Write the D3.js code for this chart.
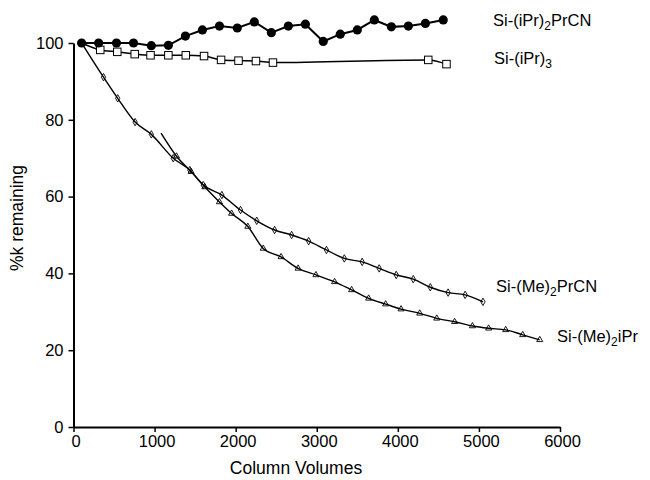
<!DOCTYPE html>
<html>
<head>
<meta charset="utf-8">
<script src="https://cdn.jsdelivr.net/npm/d3@7"></script>
<style>
  body { margin: 0; background: #fff; }
  text { font-family: "Liberation Sans", Arial, Helvetica, sans-serif; fill: #000; }
</style>
</head>
<body>
<svg id="chart" width="650" height="480"></svg>
<script>
// values: [column volumes, % k remaining]
const iPr2PrCN = [[100,100],[310,100],[530,100],[740,100],[960,99.3],[1170,99.4],[1380,101.8],[1590,103.4],
  [1800,104.4],[2020,103.9],[2230,105.5],[2440,102.7],[2650,104.4],[2860,104.9],[3080,100.4],[3290,102.3],
  [3500,103.4],[3710,106.0],[3920,104.2],[4130,104.4],[4340,105.1],[4560,106.0]];
const iPr3 = [[100,100],[330,98.2],[540,97.7],[755,97.1],[950,96.8],[1170,96.8],[1385,96.8],[1610,96.6],
  [1820,95.6],[2035,95.4],[2250,95.3],[2460,94.9],[4375,95.6],[4600,94.5]];
const me2PrCN = [[100,100],[370,91.1],[545,85.6],[760,79.4],[960,76.2],[1230,70.0],[1435,66.9],[1600,63.0],
  [1830,60.4],[2060,56.5],[2260,53.7],[2480,51.3],[2690,50.0],[2900,48.4],[3120,46.1],[3340,43.9],
  [3560,43.0],[3770,41.3],[3980,39.6],[4190,38.5],[4400,36.4],[4620,35.0],[4830,34.4],[5050,32.6]];
const me2iPr = [[1080,76.5],[1270,70.5],[1450,66.5],[1620,62.5],[1800,58.6],[1950,55.6],[2150,52.2],
  [2340,46.5],[2560,44.3],[2770,41.3],[2990,39.6],[3220,37.8],[3430,35.7],[3640,33.5],[3850,32.0],
  [4040,30.7],[4270,29.6],[4480,28.3],[4700,27.4],[4920,26.3],[5120,25.7],[5330,25.3],[5540,24.0],[5750,22.7]];

const xTicks = [0, 1000, 2000, 3000, 4000, 5000, 6000];
const yTicks = [0, 20, 40, 60, 80, 100];

const margin = {left: 73.5, top: 43};
const w = 486.5, h = 384;

const svg = d3.select('#chart');
const g = svg.append('g').attr('transform', `translate(${margin.left},${margin.top})`);

const x = d3.scaleLinear().domain([0, 6000]).range([0, w]);
const y = d3.scaleLinear().domain([0, 100]).range([h, 0]);

// axes
const xAxis = g.append('g').attr('transform', `translate(0,${h})`)
  .call(d3.axisBottom(x).tickValues(xTicks).tickFormat(d3.format('d'))
    .tickSize(5).tickSizeOuter(0).tickPadding(3));
const yAxis = g.append('g')
  .call(d3.axisLeft(y).tickValues(yTicks).tickFormat(d3.format('d'))
    .tickSize(5).tickSizeOuter(0).tickPadding(5));

[xAxis, yAxis].forEach(a => {
  a.select('.domain').attr('stroke', '#000').attr('stroke-width', 2);
  a.selectAll('.tick line').attr('stroke', '#000').attr('stroke-width', 1.5);
  a.selectAll('.tick text').style('font-size', '16.5px').attr('fill', '#000');
});
xAxis.selectAll('.tick text').attr('dx', 2);

svg.append('text').attr('x', 296).attr('y', 474).attr('text-anchor', 'middle')
  .style('font-size', '17.5px').text('Column Volumes');
svg.append('text').attr('transform', 'translate(23,218) rotate(-90)').attr('text-anchor', 'middle')
  .style('font-size', '17.5px').text('%k remaining');

const line = d3.line().x(d => x(d[0])).y(d => y(d[1]));
const smooth = d3.line().curve(d3.curveMonotoneX).x(d => x(d[0])).y(d => y(d[1]));

// lower two series (thin lines, small hollow markers)
[[me2PrCN, d3.symbolDiamond], [me2iPr, d3.symbolTriangle]].forEach(([data, sym]) => {
  g.append('path').datum(data).attr('d', smooth)
    .attr('fill', 'none').attr('stroke', '#000').attr('stroke-width', 1.4);
  g.selectAll(null).data(data.slice(1)).join('path')
    .attr('transform', d => `translate(${x(d[0])},${y(d[1])})`)
    .attr('d', d3.symbol().type(sym).size(16))
    .attr('fill', 'none').attr('stroke', '#000').attr('stroke-width', 0.9);
});

// Si-(iPr)3 : open squares
g.append('path').datum(iPr3).attr('d', smooth)
  .attr('fill', 'none').attr('stroke', '#000').attr('stroke-width', 1.5);
g.selectAll('rect.sq').data(iPr3.slice(1)).join('rect').attr('class', 'sq')
  .attr('x', d => x(d[0]) - 3.75).attr('y', d => y(d[1]) - 3.75)
  .attr('width', 7.5).attr('height', 7.5)
  .attr('fill', '#fff').attr('stroke', '#000').attr('stroke-width', 1);

// Si-(iPr)2PrCN : filled circles
g.append('path').datum(iPr2PrCN).attr('d', line)
  .attr('fill', 'none').attr('stroke', '#000').attr('stroke-width', 2);
g.selectAll('circle.pt').data(iPr2PrCN).join('circle').attr('class', 'pt')
  .attr('cx', d => x(d[0])).attr('cy', d => y(d[1])).attr('r', 4.6).attr('fill', '#000');

// series labels
function label(px, py, pre, sub, post) {
  const t = svg.append('text').attr('x', px).attr('y', py).style('font-size', '16.5px');
  t.append('tspan').text(pre);
  t.append('tspan').attr('dy', 4).style('font-size', '12px').text(sub);
  t.append('tspan').attr('dy', -4).text(post);
}
label(493, 26, 'Si-(iPr)', '2', 'PrCN');
label(494, 64, 'Si-(iPr)', '3', '');
label(496, 292, 'Si-(Me)', '2', 'PrCN');
label(557, 342, 'Si-(Me)', '2', 'iPr');
</script>
</body>
</html>
